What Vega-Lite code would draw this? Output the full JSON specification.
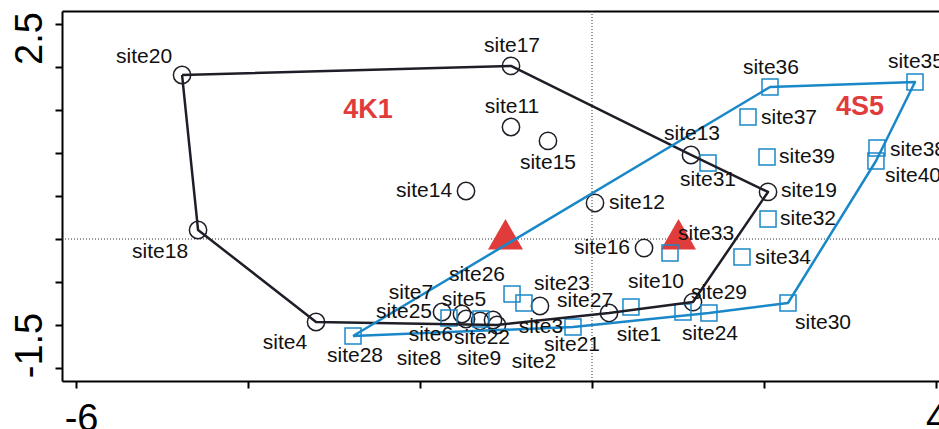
{
  "$schema": "https://vega.github.io/schema/vega-lite/v6.json",
  "width": 877,
  "height": 370,
  "autosize": {"type": "none"},
  "padding": {"left": 62, "top": 11, "right": 0, "bottom": 48},
  "background": "white",
  "config": {
    "view": {"stroke": null},
    "axis": {"grid": false, "domainColor": "black", "domainWidth": 2, "tickColor": "black", "tickWidth": 2, "tickSize": 7, "labelFont": "Liberation Sans", "labelFontSize": 38, "labelColor": "black"}
  },
  "datasets": {
    "sites": [
      {"site": "site1", "group": "4K1", "x": 0.198, "y": -0.860, "lx": 0.547, "ly": -1.116},
      {"site": "site2", "group": "4K1", "x": -1.105, "y": -1.000, "lx": -0.674, "ly": -1.430},
      {"site": "site3", "group": "4K1", "x": -0.605, "y": -0.779, "lx": -0.593, "ly": -1.023},
      {"site": "site4", "group": "4K1", "x": -3.209, "y": -0.965, "lx": -3.570, "ly": -1.209},
      {"site": "site5", "group": "4K1", "x": -1.512, "y": -0.872, "lx": -1.488, "ly": -0.709},
      {"site": "site6", "group": "4K1", "x": -1.465, "y": -0.930, "lx": -1.872, "ly": -1.116},
      {"site": "site7", "group": "4K1", "x": -1.744, "y": -0.849, "lx": -2.105, "ly": -0.628},
      {"site": "site8", "group": "4K1", "x": -1.302, "y": -0.953, "lx": -2.012, "ly": -1.395},
      {"site": "site9", "group": "4K1", "x": -1.151, "y": -0.942, "lx": -1.314, "ly": -1.395},
      {"site": "site10", "group": "4K1", "x": 1.174, "y": -0.733, "lx": 0.744, "ly": -0.500},
      {"site": "site11", "group": "4K1", "x": -0.942, "y": 1.302, "lx": -0.930, "ly": 1.535},
      {"site": "site12", "group": "4K1", "x": 0.035, "y": 0.419, "lx": 0.523, "ly": 0.419},
      {"site": "site13", "group": "4K1", "x": 1.151, "y": 0.977, "lx": 1.163, "ly": 1.221},
      {"site": "site14", "group": "4K1", "x": -1.465, "y": 0.558, "lx": -1.953, "ly": 0.558},
      {"site": "site15", "group": "4K1", "x": -0.512, "y": 1.140, "lx": -0.512, "ly": 0.884},
      {"site": "site16", "group": "4K1", "x": 0.605, "y": -0.105, "lx": 0.116, "ly": -0.105},
      {"site": "site17", "group": "4K1", "x": -0.942, "y": 2.012, "lx": -0.930, "ly": 2.244},
      {"site": "site18", "group": "4K1", "x": -4.581, "y": 0.105, "lx": -5.023, "ly": -0.151},
      {"site": "site19", "group": "4K1", "x": 2.047, "y": 0.547, "lx": 2.523, "ly": 0.558},
      {"site": "site20", "group": "4K1", "x": -4.767, "y": 1.907, "lx": -5.209, "ly": 2.116},
      {"site": "site21", "group": "4S5", "x": -0.221, "y": -1.023, "lx": -0.233, "ly": -1.233},
      {"site": "site22", "group": "4S5", "x": -1.291, "y": -0.930, "lx": -1.279, "ly": -1.151},
      {"site": "site23", "group": "4S5", "x": -0.791, "y": -0.744, "lx": -0.349, "ly": -0.523},
      {"site": "site24", "group": "4S5", "x": 1.360, "y": -0.860, "lx": 1.372, "ly": -1.105},
      {"site": "site25", "group": "4S5", "x": -1.663, "y": -0.919, "lx": -2.186, "ly": -0.849},
      {"site": "site26", "group": "4S5", "x": -0.930, "y": -0.640, "lx": -1.337, "ly": -0.419},
      {"site": "site27", "group": "4S5", "x": 0.453, "y": -0.791, "lx": -0.081, "ly": -0.721},
      {"site": "site28", "group": "4S5", "x": -2.779, "y": -1.128, "lx": -2.756, "ly": -1.360},
      {"site": "site29", "group": "4S5", "x": 1.058, "y": -0.849, "lx": 1.477, "ly": -0.628},
      {"site": "site30", "group": "4S5", "x": 2.279, "y": -0.744, "lx": 2.686, "ly": -0.977},
      {"site": "site31", "group": "4S5", "x": 1.349, "y": 0.884, "lx": 1.349, "ly": 0.686},
      {"site": "site32", "group": "4S5", "x": 2.047, "y": 0.233, "lx": 2.512, "ly": 0.233},
      {"site": "site33", "group": "4S5", "x": 0.907, "y": -0.163, "lx": 1.326, "ly": 0.058},
      {"site": "site34", "group": "4S5", "x": 1.744, "y": -0.209, "lx": 2.221, "ly": -0.221},
      {"site": "site35", "group": "4S5", "x": 3.756, "y": 1.826, "lx": 3.767, "ly": 2.058},
      {"site": "site36", "group": "4S5", "x": 2.070, "y": 1.767, "lx": 2.081, "ly": 1.988},
      {"site": "site37", "group": "4S5", "x": 1.814, "y": 1.419, "lx": 2.291, "ly": 1.407},
      {"site": "site38", "group": "4S5", "x": 3.314, "y": 1.058, "lx": 3.791, "ly": 1.035},
      {"site": "site39", "group": "4S5", "x": 2.035, "y": 0.953, "lx": 2.500, "ly": 0.953},
      {"site": "site40", "group": "4S5", "x": 3.302, "y": 0.907, "lx": 3.733, "ly": 0.733}
    ],
    "hulls": [
      {"group": "4K1", "ord": 1, "site": "site20"},
      {"group": "4K1", "ord": 2, "site": "site17"},
      {"group": "4K1", "ord": 3, "site": "site13"},
      {"group": "4K1", "ord": 4, "site": "site19"},
      {"group": "4K1", "ord": 5, "site": "site10"},
      {"group": "4K1", "ord": 6, "site": "site1"},
      {"group": "4K1", "ord": 7, "site": "site2"},
      {"group": "4K1", "ord": 8, "site": "site4"},
      {"group": "4K1", "ord": 9, "site": "site18"},
      {"group": "4K1", "ord": 10, "site": "site20"},
      {"group": "4S5", "ord": 1, "site": "site28"},
      {"group": "4S5", "ord": 2, "site": "site36"},
      {"group": "4S5", "ord": 3, "site": "site35"},
      {"group": "4S5", "ord": 4, "site": "site40"},
      {"group": "4S5", "ord": 5, "site": "site30"},
      {"group": "4S5", "ord": 6, "site": "site24"},
      {"group": "4S5", "ord": 7, "site": "site21"},
      {"group": "4S5", "ord": 8, "site": "site28"}
    ],
    "groups": [
      {"group": "4K1", "cx": -1.006, "cy": 0.055, "tx": -2.605, "ty": 1.50},
      {"group": "4S5", "cx": 1.006, "cy": 0.055, "tx": 3.116, "ty": 1.535}
    ],
    "refs": [{"zero": 0}]
  },
  "layer": [
    {
      "data": {"name": "refs"},
      "mark": {"type": "rule", "strokeDash": [1, 2], "color": "#333333", "strokeWidth": 1},
      "encoding": {
        "x": {"field": "zero", "type": "quantitative", "scale": {"domain": [-6.163, 4.035], "nice": false, "zero": false},
              "axis": {"orient": "top", "ticks": false, "labels": false, "title": null, "domain": true}}
      }
    },
    {
      "data": {"name": "refs"},
      "mark": {"type": "rule", "strokeDash": [1, 2], "color": "#333333", "strokeWidth": 1},
      "encoding": {
        "y": {"field": "zero", "type": "quantitative", "scale": {"domain": [-1.651, 2.651], "nice": false, "zero": false}, "axis": null}
      }
    },
    {
      "data": {"name": "groups"},
      "mark": {"type": "point", "shape": "triangle-up", "filled": true, "size": 1225, "color": "#e03c3c", "opacity": 1},
      "encoding": {
        "x": {"field": "cx", "type": "quantitative", "scale": {"domain": [-6.163, 4.035], "nice": false, "zero": false}, "axis": null},
        "y": {"field": "cy", "type": "quantitative", "scale": {"domain": [-1.651, 2.651], "nice": false, "zero": false}, "axis": null}
      }
    },
    {
      "data": {"name": "sites"},
      "mark": {"type": "point", "filled": false, "strokeWidth": 1.5, "opacity": 1},
      "encoding": {
        "x": {"field": "x", "type": "quantitative", "scale": {"domain": [-6.163, 4.035], "nice": false, "zero": false},
              "axis": {"orient": "bottom", "title": null, "values": [-6, -4, -2, 0, 2, 4],
                       "labelExpr": "datum.value == -6 ? '-6' : (datum.value == 4 ? '4' : '')",
                       "labelBaseline": "top", "labelPadding": 12,
                       "labelOffset": {"condition": {"test": "datum.value == -6", "value": 5}, "value": 0}}},
        "y": {"field": "y", "type": "quantitative", "scale": {"domain": [-1.651, 2.651], "nice": false, "zero": false},
              "axis": {"orient": "left", "title": null, "values": [-1.5, -1, -0.5, 0, 0.5, 1, 1.5, 2, 2.5],
                       "labelExpr": "datum.value == 2.5 ? '2.5' : (datum.value == -1.5 ? '-1.5' : '')",
                       "labelAngle": 270, "labelAlign": "center", "labelBaseline": "alphabetic", "labelPadding": 14,
                       "labelOffset": {"condition": {"test": "datum.value == 2.5", "value": 14}, "value": -23}}},
        "shape": {"field": "group", "type": "nominal", "scale": {"domain": ["4K1", "4S5"], "range": ["circle", "square"]}, "legend": null},
        "stroke": {"field": "group", "type": "nominal", "scale": {"domain": ["4K1", "4S5"], "range": ["#1e1e28", "#1a88c8"]}, "legend": null},
        "size": {"field": "group", "type": "nominal", "scale": {"domain": ["4K1", "4S5"], "range": [300, 256]}, "legend": null}
      }
    },
    {
      "data": {"name": "hulls"},
      "transform": [
        {"lookup": "site", "from": {"data": {"name": "sites"}, "key": "site", "fields": ["x", "y"]}}
      ],
      "mark": {"type": "line", "strokeWidth": 2.5, "strokeJoin": "round"},
      "encoding": {
        "x": {"field": "x", "type": "quantitative", "scale": {"domain": [-6.163, 4.035], "nice": false, "zero": false}, "axis": null},
        "y": {"field": "y", "type": "quantitative", "scale": {"domain": [-1.651, 2.651], "nice": false, "zero": false}, "axis": null},
        "order": {"field": "ord", "type": "quantitative"},
        "detail": {"field": "group", "type": "nominal"},
        "color": {"field": "group", "type": "nominal", "scale": {"domain": ["4K1", "4S5"], "range": ["#1e1e28", "#1a88c8"]}, "legend": null}
      }
    },
    {
      "data": {"name": "sites"},
      "mark": {"type": "text", "font": "Liberation Sans", "fontSize": 21, "color": "#111111", "align": "center", "baseline": "middle"},
      "encoding": {
        "x": {"field": "lx", "type": "quantitative", "scale": {"domain": [-6.163, 4.035], "nice": false, "zero": false}, "axis": null},
        "y": {"field": "ly", "type": "quantitative", "scale": {"domain": [-1.651, 2.651], "nice": false, "zero": false}, "axis": null},
        "text": {"field": "site", "type": "nominal"}
      }
    },
    {
      "data": {"name": "groups"},
      "mark": {"type": "text", "font": "Liberation Sans", "fontSize": 27, "fontWeight": "bold", "color": "#e03c3c", "align": "center", "baseline": "middle"},
      "encoding": {
        "x": {"field": "tx", "type": "quantitative", "scale": {"domain": [-6.163, 4.035], "nice": false, "zero": false}, "axis": null},
        "y": {"field": "ty", "type": "quantitative", "scale": {"domain": [-1.651, 2.651], "nice": false, "zero": false}, "axis": null},
        "text": {"field": "group", "type": "nominal"}
      }
    }
  ],
  "resolve": {"axis": {"x": "independent", "y": "independent"}}
}
